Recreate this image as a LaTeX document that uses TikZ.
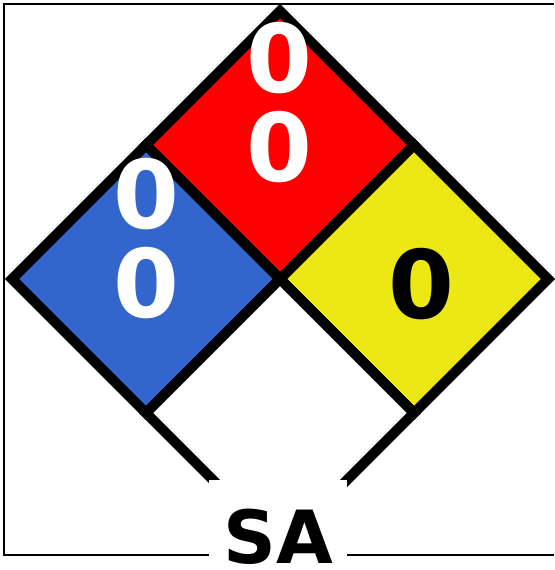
\documentclass[tikz,border=0pt]{standalone}
\usepackage{fontspec}
\setmainfont{DejaVu Sans}
\usetikzlibrary{shapes.geometric}

\definecolor{nfpared}{HTML}{FF0000}
\definecolor{nfpablue}{HTML}{3366CC}
\definecolor{nfpayellow}{HTML}{ECE813}

\begin{document}
\begin{tikzpicture}[
  x=0.75pt, y=-0.75pt,
  quad/.style={diamond, draw=black, line width=7.5pt, outer sep=0pt,
               minimum width=201pt, minimum height=201pt, inner sep=0pt},
  digit/.style={anchor=base, inner sep=0pt,
                font=\fontsize{71}{71}\selectfont\bfseries},
  frame/.style={line width=1.5pt},
  special/.style={fill=white, inner sep=0pt, minimum width=103.5pt,
                  text height=62pt, text depth=1.5pt, anchor=base,
                  font=\fontsize{55}{55}\selectfont\bfseries},
]
\useasboundingbox (0,0) rectangle (554,570);

% ---- Rahmen ----
\draw[frame] (554,4) -- (4,4) -- (4,555) -- (554,555);

% ---- Felder ----
\node[quad, fill=nfpared]    (flam)   at (280,145) {};
\node[quad, fill=nfpablue]   (health) at (146,279) {};
\node[quad, fill=nfpayellow] (react)  at (414,279) {};
\node[quad, fill=white]      (spec)   at (280,413) {};

% ---- Ziffern ----
\node[digit, text=white] (flam-a)   at (279,93)  {0};
\node[digit, text=white] (flam-b)   at (279,182) {0};
\node[digit, text=white] (health-a) at (146,228) {0};
\node[digit, text=white] (health-b) at (146,317) {0};
\node[digit, text=black] (react-a)  at (421,318) {0};

% ---- Sonderhinweis ----
\node[special] (spec-text) at (278,563) {SA};

\end{tikzpicture}
\end{document}
